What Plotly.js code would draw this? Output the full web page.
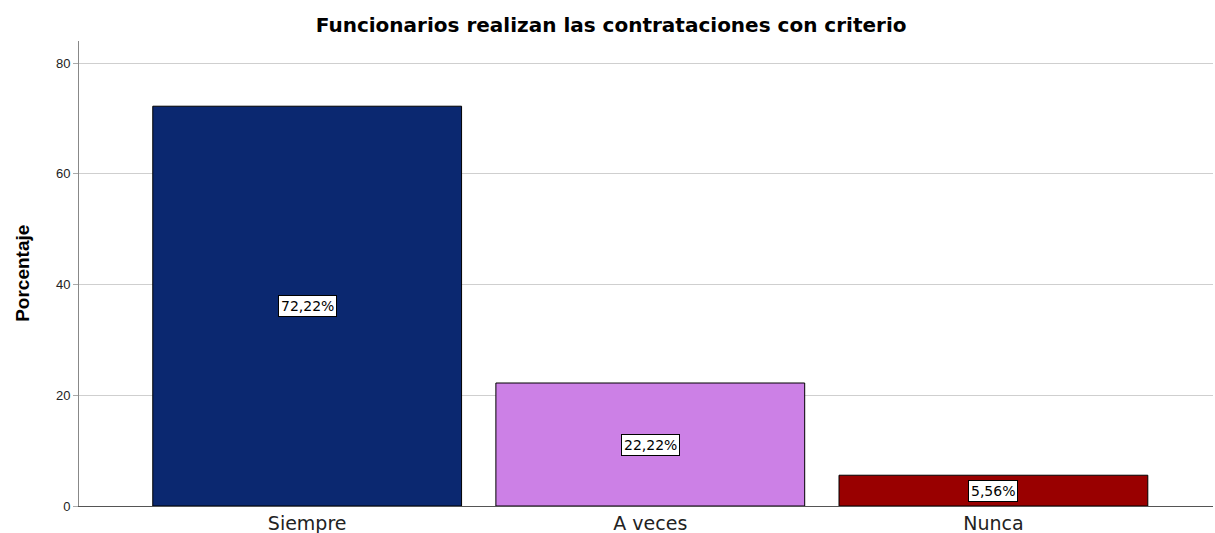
<!DOCTYPE html>
<html>
<head>
<meta charset="utf-8">
<script src="https://cdn.plot.ly/plotly-3.0.1.min.js"></script>
<style>html,body{margin:0;padding:0;background:#fff;}#chart{width:1215px;height:533px;}</style>
</head>
<body>
<div id="chart"></div>
<script>
const categories = ["Siempre", "A veces", "Nunca"];
const values = [72.22, 22.22, 5.56];
const labels = ["72,22%", "22,22%", "5,56%"];
const colors = ["#0b2870", "#cc80e6", "#990000"];
const yTicks = [0, 20, 40, 60, 80];
const yAxisTitle = "Porcentaje";
const chartTitle = "Funcionarios realizan las contrataciones con criterio";

const trace = {
  type: "bar",
  x: categories,
  y: values,
  width: 0.9,
  marker: { color: colors, line: { color: "#000000", width: 1 } },
  hoverinfo: "none"
};

const annotations = categories.map((c, i) => ({
  x: c, y: values[i] / 2, xref: "x", yref: "y",
  text: labels[i], showarrow: false,
  font: { family: "DejaVu Sans, sans-serif", size: 14, color: "#000" },
  bgcolor: "#ffffff", bordercolor: "#000000", borderwidth: 1, borderpad: 2
}));
annotations.push({
  xref: "paper", yref: "paper", x: -0.050, y: 0.50,
  xanchor: "center", yanchor: "middle", textangle: -90,
  text: "<b>" + yAxisTitle + "</b>", showarrow: false,
  font: { family: "Liberation Sans, Arial, sans-serif", size: 19, color: "#000" }
});

const layout = {
  width: 1215, height: 533,
  margin: { l: 79, r: 2, t: 41, b: 27 },
  paper_bgcolor: "#ffffff", plot_bgcolor: "#ffffff",
  showlegend: false,
  title: {
    text: "<b>" + chartTitle + "</b>",
    font: { family: "DejaVu Sans, sans-serif", size: 20, color: "#000" },
    x: 0.503, xanchor: "center", xref: "container", y: 0.953, yanchor: "middle"
  },
  xaxis: {
    range: [-0.665, 2.64],
    showgrid: false, showline: true, linecolor: "#555555", linewidth: 1,
    ticks: "", ticklabelstandoff: 0,
    tickfont: { family: "DejaVu Sans, sans-serif", size: 19, color: "#222" },
    zeroline: false, fixedrange: true
  },
  yaxis: {
    range: [0, 84],
    tickvals: yTicks, ticktext: yTicks.map(String),
    showgrid: true, gridcolor: "#cfcfcf", gridwidth: 1,
    showline: true, linecolor: "#888888", linewidth: 1,
    ticks: "outside", ticklen: 5, tickcolor: "#aaaaaa",
    tickfont: { family: "Liberation Sans, Arial, sans-serif", size: 13, color: "#222" },
    zeroline: false
  },
  annotations: annotations
};

Plotly.newPlot("chart", [trace], layout, { displayModeBar: false, staticPlot: true });
</script>
</body>
</html>
